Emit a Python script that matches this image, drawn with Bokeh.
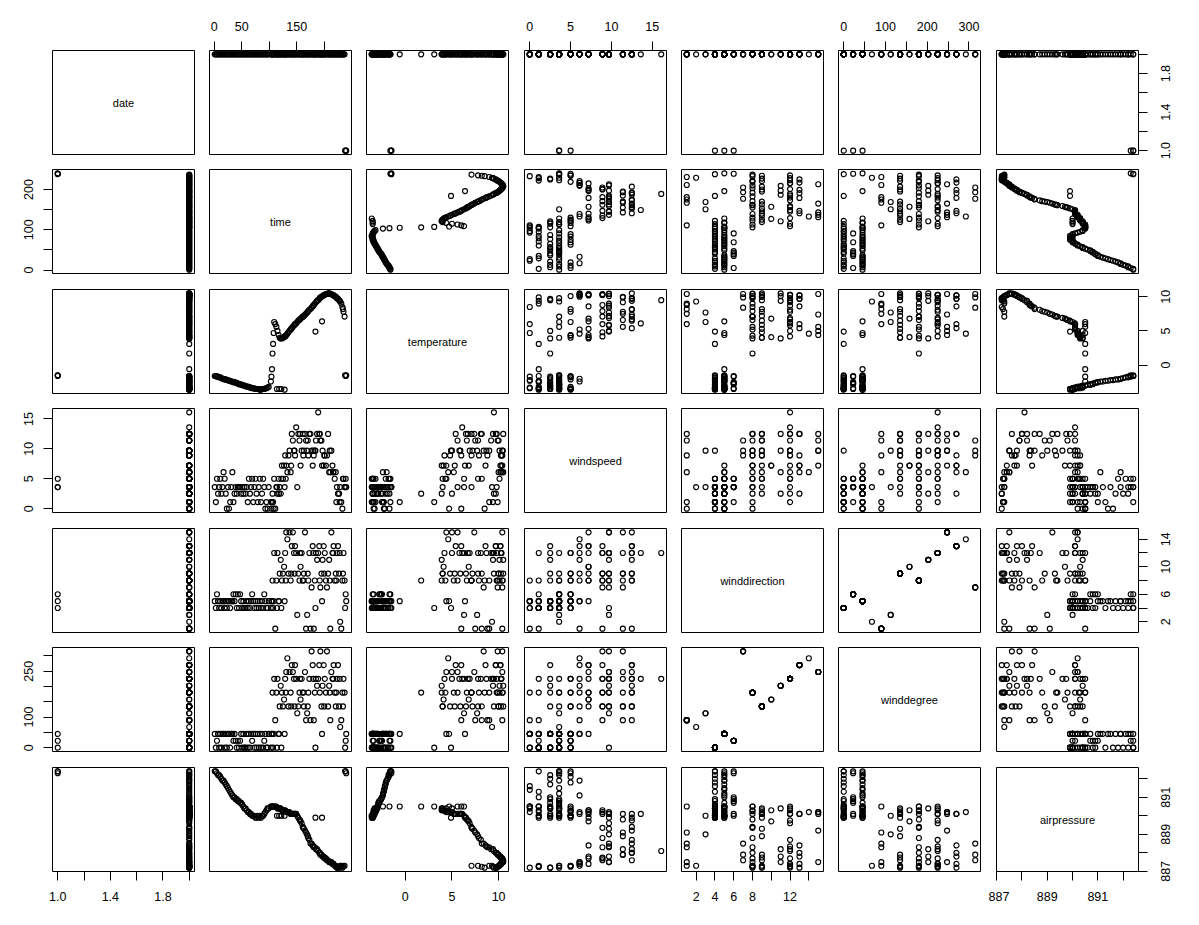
import math
from bokeh.plotting import figure
from bokeh.layouts import gridplot
from bokeh.models import LinearAxis, FixedTicker, Range1d, Label, ColumnDataSource
from bokeh.embed import file_html
from bokeh.resources import INLINE

# ---------------- data (one entry per observation) ----------------
time = [1, 3, 5, 7, 9, 11, 13, 15, 17, 19,
        21, 23, 25, 27, 29, 31, 33, 35, 37, 39,
        41, 43, 45, 47, 49, 51, 53, 55, 57, 59,
        61, 63, 65, 67, 69, 71, 73, 75, 77, 79,
        81, 83, 85, 87, 89, 91, 93, 95, 97, 99,
        103, 104, 105, 106, 107, 108,
        109, 111, 113, 114, 115, 117, 118, 119, 121, 122,
        123, 125, 127, 128, 129, 130, 131, 133, 135, 137,
        139, 140, 141, 143, 145, 146, 147, 149, 151, 153,
        155, 156, 157, 159, 161, 162, 163, 165, 167, 169,
        170, 171, 173, 175, 177, 179, 180, 181, 183, 184,
        185, 187, 189, 191, 192, 193, 195, 196, 197, 199,
        200, 201, 203, 205, 207, 209, 210, 211, 213, 215,
        216, 217, 219, 221, 222, 223, 225, 227, 228, 229,
        231, 233, 234, 235, 237,
        238, 239, 240]

temperature = [-1.6, -1.6, -1.7, -1.7, -1.8, -1.8, -1.9, -2.0, -2.0, -2.1,
               -2.1, -2.2, -2.2, -2.3, -2.3, -2.4, -2.4, -2.5, -2.5, -2.6,
               -2.6, -2.7, -2.8, -2.8, -2.9, -2.9, -3.0, -3.0, -3.1, -3.1,
               -3.2, -3.2, -3.3, -3.3, -3.4, -3.4, -3.4, -3.5, -3.5, -3.5,
               -3.5, -3.6, -3.6, -3.5, -3.5, -3.5, -3.4, -3.4, -3.3, -3.2,
               -2.4, -1.7, -0.6, 1.7, 3.1, 4.7,
               6.3, 6.0, 5.6, -3.5, 5.0, 4.4, -3.5, 4.0, 3.9, -3.5,
               3.9, 4.0, 4.1, -3.6, 4.2, 4.3, 4.4, 4.6, 4.8, 5.0,
               5.2, 5.3, 5.4, 5.6, 5.8, 5.9, 6.0, 6.1, 6.3, 6.5,
               6.6, 6.7, 6.8, 6.9, 7.1, 7.1, 7.2, 7.4, 7.5, 7.7,
               7.8, 7.9, 8.1, 8.2, 8.4, 8.6, 8.7, 8.8, 9.0, 4.9,
               9.2, 9.4, 9.5, 9.7, 9.8, 9.9, 10.0, 6.4, 10.1, 10.2,
               10.25, 10.3, 10.4, 10.4, 10.5, 10.5, 10.45, 10.4, 10.4, 10.3,
               10.25, 10.2, 10.1, 10.0, 9.9, 9.8, 9.7, 9.5, 9.4, 9.3,
               9.0, 8.5, 8.2, 7.8, 7.1,
               -1.5, -1.6, -1.5]

airpressure = [892.4, 892.4, 892.3, 892.2, 892.2, 892.1, 892.0, 891.9, 891.9, 891.8,
               891.7, 891.6, 891.5, 891.4, 891.3, 891.2, 891.1, 891.0, 891.0, 890.9,
               890.9, 890.8, 890.8, 890.7, 890.7, 890.6, 890.5, 890.4, 890.4, 890.3,
               890.2, 890.2, 890.1, 890.1, 890.0, 890.0, 890.0, 889.9, 889.9, 890.0,
               889.9, 890.0, 889.9, 890.0, 890.0, 890.1, 890.2, 890.3, 890.4, 890.4,
               890.5, 890.5, 890.5, 890.5, 890.5, 890.5,
               890.5, 890.5, 890.5, 890.0, 890.4, 890.4, 890.0, 890.4, 890.4, 890.0,
               890.3, 890.3, 890.3, 890.0, 890.3, 890.25, 890.2, 890.2, 890.2, 890.2,
               890.1, 890.1, 890.1, 890.1, 890.1, 890.1, 890.1, 890.1, 890.0, 889.9,
               889.8, 889.75, 889.7, 889.6, 889.4, 889.35, 889.3, 889.2, 889.1, 889.0,
               888.9, 888.8, 888.7, 888.5, 888.5, 888.4, 888.35, 888.3, 888.3, 889.9,
               888.2, 888.2, 888.1, 888.0, 888.0, 887.9, 887.9, 889.9, 887.8, 887.8,
               887.75, 887.7, 887.7, 887.6, 887.6, 887.5, 887.5, 887.5, 887.5, 887.4,
               887.4, 887.4, 887.3, 887.3, 887.25, 887.2, 887.2, 887.2, 887.25, 887.3,
               887.3, 887.2, 887.25, 887.3, 887.3,
               892.4, 892.4, 892.3]

windspeed = [3.6, 1.1, 5.0, 2.5, 3.6, 5.0, 2.5, 3.6, 6.1, 5.0,
             2.5, 0.0, 3.6, 0.0, 1.1, 3.6, 6.1, 1.1, 2.5, 3.6,
             2.5, 3.6, 3.6, 3.6, 2.5, 3.6, 2.5, 3.6, 2.5, 3.6,
             1.1, 5.0, 2.5, 3.6, 5.0, 1.1, 3.6, 5.0, 2.5, 1.1,
             3.6, 5.0, 1.1, 2.5, 5.0, 3.6, 0.0, 1.1, 0.0, 3.6,
             1.1, 0.0, 1.1, 2.5, 1.1, 0.0,
             5.0, 0.0, 3.6, 3.6, 2.5, 5.0, 2.5, 3.6, 2.5, 5.0,
             7.2, 5.0, 7.2, 3.6, 8.9, 5.0, 7.2, 6.1, 8.9, 9.7,
             6.1, 7.2, 12.5, 11.4, 9.7, 9.7, 8.9, 13.6, 3.6, 12.5,
             11.4, 12.5, 7.2, 9.7, 12.5, 8.9, 9.7, 12.5, 11.4, 9.7,
             11.4, 8.9, 12.5, 12.5, 9.7, 7.2, 9.7, 8.9, 9.7, 9.7,
             11.4, 12.5, 16.1, 12.5, 12.5, 11.4, 11.4, 7.2, 9.7, 7.2,
             8.9, 8.9, 7.2, 8.9, 12.5, 6.1, 9.7, 6.1, 9.7, 7.2,
             6.1, 6.1, 5.0, 6.1, 1.1, 3.6, 2.5, 2.5, 1.1, 3.6,
             1.1, 0.0, 5.0, 5.0, 3.6,
             3.6, 5.0, 3.6]

wind_compass = ["NE", "N", "NNE", "NE", "N", "NE", "N", "NE", "NE", "N",
                "NE", "N", "NE", "NE", "N", "NE", "NE", "NNE", "NE", "NNE",
                "N", "NNE", "N", "NNE", "NE", "N", "NE", "N", "N", "NE",
                "N", "NE", "N", "NE", "NNE", "NE", "N", "NE", "N", "NE",
                "N", "NE", "N", "NE", "N", "NNE", "NE", "N", "N", "NE",
                "N", "NE", "NE", "S", "N", "NE",
                "SW", "E", "S", "N", "SW", "NE", "NE", "SE", "SSW", "N",
                "S", "SE", "SSE", "NE", "SW", "S", "WSW", "WNW", "SE", "WSW",
                "S", "SE", "W", "WSW", "SW", "SE", "W", "SW", "ESE", "SE",
                "S", "SW", "SSE", "SW", "S", "S", "SE", "WSW", "E", "ESE",
                "SE", "S", "SW", "E", "NW", "W", "SW", "E", "S", "N",
                "SW", "SSW", "SW", "W", "S", "NW", "SE", "NE", "SSW", "W",
                "SE", "SW", "S", "NW", "SE", "SSW", "S", "E", "WSW", "SW",
                "SW", "W", "S", "SE", "S", "SW", "W", "SE", "SW", "ENE",
                "E", "S", "SE", "SW", "S",
                "N", "NNE", "NE"]

date = [2, 2, 2, 2, 2, 2, 2, 2, 2, 2,
        2, 2, 2, 2, 2, 2, 2, 2, 2, 2,
        2, 2, 2, 2, 2, 2, 2, 2, 2, 2,
        2, 2, 2, 2, 2, 2, 2, 2, 2, 2,
        2, 2, 2, 2, 2, 2, 2, 2, 2, 2,
        2, 2, 2, 2, 2, 2,
        2, 2, 2, 2, 2, 2, 2, 2, 2, 2,
        2, 2, 2, 2, 2, 2, 2, 2, 2, 2,
        2, 2, 2, 2, 2, 2, 2, 2, 2, 2,
        2, 2, 2, 2, 2, 2, 2, 2, 2, 2,
        2, 2, 2, 2, 2, 2, 2, 2, 2, 2,
        2, 2, 2, 2, 2, 2, 2, 2, 2, 2,
        2, 2, 2, 2, 2, 2, 2, 2, 2, 2,
        2, 2, 2, 2, 2, 2, 2, 2, 2, 2,
        2, 2, 2, 2, 2,
        1, 1, 1]

# compass factor levels (alphabetical, as coded) and their degrees
compass_levels = ["E", "ENE", "ESE", "N", "NE", "NNE", "NW", "S", "SE",
                  "SSE", "SSW", "SW", "W", "WNW", "WSW"]
compass_degrees = [90, 67.5, 112.5, 0, 45, 22.5, 315, 180, 135,
                   157.5, 202.5, 225, 270, 292.5, 247.5]

winddirection = [compass_levels.index(c) + 1 for c in wind_compass]
winddegree = [compass_degrees[compass_levels.index(c)] for c in wind_compass]

n = len(time)
for arr in (temperature, airpressure, windspeed, wind_compass, date):
    assert len(arr) == n, (len(arr), n)

names = ["date", "time", "temperature", "windspeed", "winddirection",
         "winddegree", "airpressure"]
data = {"date": date, "time": time, "temperature": temperature,
        "windspeed": windspeed, "winddirection": winddirection,
        "winddegree": winddegree, "airpressure": airpressure}

ticks = {
    "date": [1.0, 1.2, 1.4, 1.6, 1.8, 2.0],
    "time": [0, 50, 100, 150, 200],
    "temperature": [0, 5, 10],
    "windspeed": [0, 5, 10, 15],
    "winddirection": [2, 4, 6, 8, 10, 12, 14],
    "winddegree": [0, 50, 100, 150, 200, 250, 300],
    "airpressure": [887, 888, 889, 890, 891, 892],
}
# labels that remain visible (horizontal axes / vertical axes)
xlabels = {
    "date": [1.0, 1.4, 1.8], "time": [0, 50, 150], "temperature": [0, 5, 10],
    "windspeed": [0, 5, 10, 15], "winddirection": [2, 4, 6, 8, 12],
    "winddegree": [0, 100, 200, 300], "airpressure": [887, 889, 891],
}
ylabels = {
    "date": [1.0, 1.4, 1.8], "time": [0, 100, 200], "temperature": [0, 5, 10],
    "windspeed": [0, 5, 10, 15], "winddirection": [2, 6, 10, 14],
    "winddegree": [0, 100, 250], "airpressure": [887, 889, 891],
}

# ---------------- layout ----------------
FW, FH = 142, 104
bl = [52, 8, 7, 8, 8, 7, 8]
br = [7, 8, 8, 7, 8, 8, 10]
bt = [50, 8, 8, 8, 8, 8, 8]
bb = [7, 8, 7, 8, 7, 8, 48]

FONT = "Liberation Sans"
TICK_FONT_SIZE = "12.5px"

ranges = {}
for nm in names:
    v = data[nm]
    lo, hi = min(v), max(v)
    pad = 0.04 * (hi - lo)
    ranges[nm] = (lo - pad, hi + pad)


def fmt(var, t):
    if var == "date":
        return "%.1f" % t
    return str(int(t))


def style_axis(ax, tick_out, standoff):
    ax.axis_line_color = None
    ax.major_tick_line_color = "black" if tick_out else None
    ax.major_tick_line_width = 1
    ax.major_tick_in = 0
    ax.major_tick_out = tick_out
    ax.minor_tick_line_color = None
    ax.major_label_standoff = standoff
    ax.major_label_text_font = FONT
    ax.major_label_text_font_size = TICK_FONT_SIZE
    ax.major_label_text_color = "black"


def add_axis(p, var, side):
    ax = LinearAxis(ticker=FixedTicker(ticks=ticks[var]))
    if side in ("above", "below"):
        ax.major_label_overrides = {t: (fmt(var, t) if t in xlabels[var] else "")
                                    for t in ticks[var]}
        style_axis(ax, 9, 11)
    elif side == "left":
        ax.major_label_overrides = {t: (fmt(var, t) if t in ylabels[var] else "")
                                    for t in ticks[var]}
        style_axis(ax, 9, 10)
        ax.major_label_orientation = "parallel"
    else:
        # ticks only; the upward-reading labels sit in the label strip to the right
        ax.major_label_overrides = {t: "" for t in ticks[var]}
        style_axis(ax, 9, 2)
    p.add_layout(ax, side)


rows = []
for i, yv in enumerate(names):
    row = []
    for j, xv in enumerate(names):
        xr = Range1d(*ranges[xv])
        yr = Range1d(*ranges[yv])
        p = figure(frame_width=FW, frame_height=FH, x_range=xr, y_range=yr,
                   output_backend="svg", toolbar_location=None, title=None,
                   x_axis_location=None, y_axis_location=None,
                   min_border_left=bl[j], min_border_right=br[j],
                   min_border_top=bt[i], min_border_bottom=bb[i])
        p.grid.visible = False
        p.outline_line_color = "black"
        p.outline_line_width = 1
        p.outline_line_alpha = 1.0
        p.background_fill_color = "white"
        p.border_fill_color = "white"
        if i == j:
            p.add_layout(Label(x=(xr.start + xr.end) / 2, y=(yr.start + yr.end) / 2,
                               text=xv, text_align="center", text_baseline="middle",
                               text_font=FONT, text_font_size="11px",
                               text_color="black"))
        else:
            src = ColumnDataSource(dict(x=data[xv], y=data[yv]))
            p.scatter(x="x", y="y", source=src, marker="circle", size=5.0,
                      fill_color=None, line_color="black", line_width=1.15)
        if i == 0 and j % 2 == 1:
            add_axis(p, xv, "above")
        if i == 6 and j % 2 == 0:
            add_axis(p, xv, "below")
        if j == 0 and i % 2 == 1:
            add_axis(p, yv, "left")
        if j == 6 and i % 2 == 0:
            add_axis(p, yv, "right")
        row.append(p)

    # label strip right of the last column: its left axis carries the
    # right-hand tick labels of this row (reading upward, as in the original)
    s = figure(frame_width=2, frame_height=FH, x_range=Range1d(0, 1),
               y_range=Range1d(*ranges[yv]), output_backend="svg",
               toolbar_location=None, title=None,
               x_axis_location=None, y_axis_location=None,
               min_border_left=24, min_border_right=0,
               min_border_top=bt[i], min_border_bottom=bb[i])
    s.grid.visible = False
    s.outline_line_color = None
    s.background_fill_color = "white"
    s.border_fill_color = "white"
    if i % 2 == 0:
        ax = LinearAxis(ticker=FixedTicker(ticks=ylabels[yv]))
        ax.major_label_overrides = {t: fmt(yv, t) for t in ylabels[yv]}
        style_axis(ax, 0, 2)
        ax.major_label_orientation = "parallel"
        s.add_layout(ax, "left")
    row.append(s)
    rows.append(row)

grid = gridplot(rows, toolbar_location=None)

open("out.html", "w").write(file_html(grid, INLINE))
